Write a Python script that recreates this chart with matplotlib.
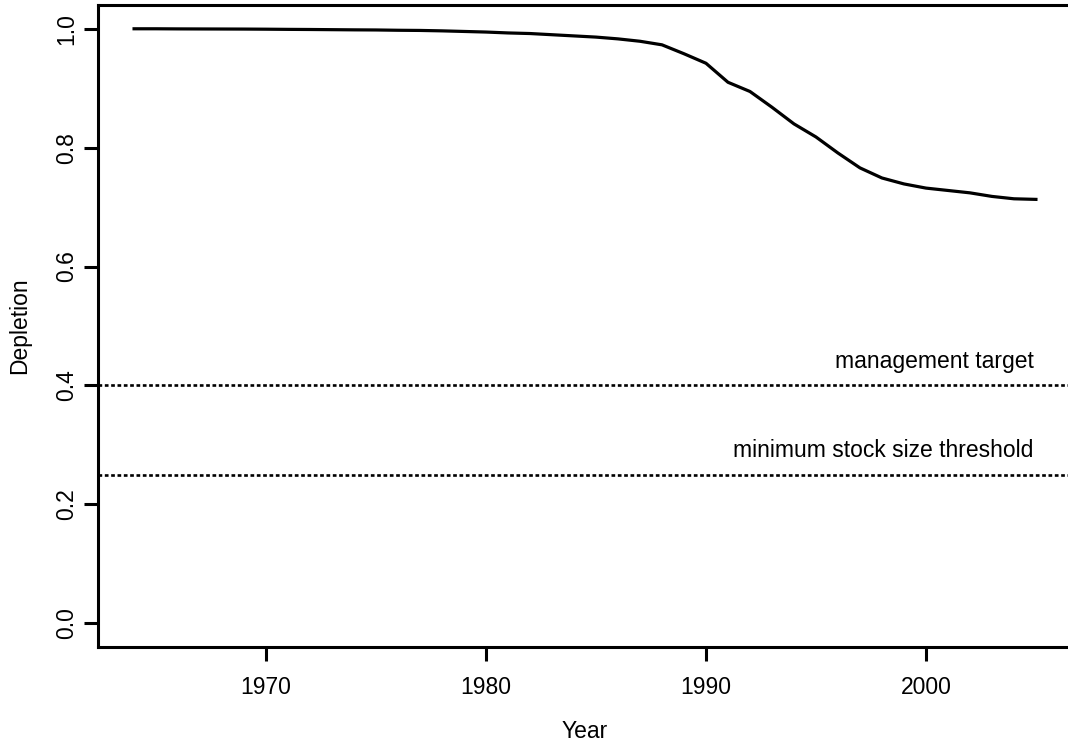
import matplotlib
matplotlib.use("Agg")
import matplotlib.pyplot as plt

# depletion trajectory
years = list(range(1964, 2006))
depletion = [
    1.000, 1.000, 0.9998, 0.9997, 0.9996, 0.9995, 0.9993, 0.9990, 0.9988, 0.9985,
    0.9982, 0.9980, 0.9975, 0.9972, 0.9965, 0.9955, 0.9945, 0.9930, 0.9920, 0.9900,
    0.9880, 0.9860, 0.9830, 0.9790, 0.9730, 0.9580, 0.9420, 0.9100, 0.8945, 0.8680,
    0.8400, 0.8180, 0.7910, 0.7660, 0.7490, 0.7390, 0.7320, 0.7280, 0.7240, 0.7180,
    0.7140, 0.7130,
]
ref_levels = [0.4, 0.25]
ref_labels = ["management target", "minimum stock size threshold"]
x_ticks = [1970, 1980, 1990, 2000]
y_ticks = [0.0, 0.2, 0.4, 0.6, 0.8, 1.0]

FONT = ["Liberation Sans", "DejaVu Sans"]
plt.rcParams["font.family"] = FONT
FS = 16.5

W, H = 1068, 748
fig = plt.figure(figsize=(W / 100, H / 100), dpi=100)
# right edge of plot region sits just outside the image, like the reference
ax = fig.add_axes([98 / W, (H - 647) / H, (1072 - 98) / W, (647 - 5) / H])

ax.plot(years, depletion, color="black", lw=2.3, solid_joinstyle="round")
for lvl, lab in zip(ref_levels, ref_labels):
    ax.axhline(lvl, color="black", lw=1.9, linestyle=(0, (1.4, 1.0)))
    ax.text(2004.9, lvl + 0.03, lab, ha="right", va="baseline", fontsize=FS)

span = years[-1] - years[0]
ax.set_xlim(years[0] - 0.04 * span, years[-1] + 0.04 * span)
ax.set_ylim(-0.04, 1.04)
ax.set_xticks(x_ticks)
ax.set_yticks(y_ticks)
ax.set_yticklabels([f"{v:.1f}" for v in y_ticks], rotation=90, va="center")

for s in ax.spines.values():
    s.set_linewidth(2.2)
ax.tick_params(axis="both", length=10, width=2.2, labelsize=FS, direction="out")
ax.tick_params(axis="x", pad=11)
ax.tick_params(axis="y", pad=4)

fig.text(585 / W, 1 - 731 / H, "Year", ha="center", va="center", fontsize=FS)
fig.text(20 / W, 1 - 326 / H, "Depletion", ha="center", va="center",
         rotation=90, fontsize=FS)

fig.savefig("out.png", dpi=100, facecolor="white")
